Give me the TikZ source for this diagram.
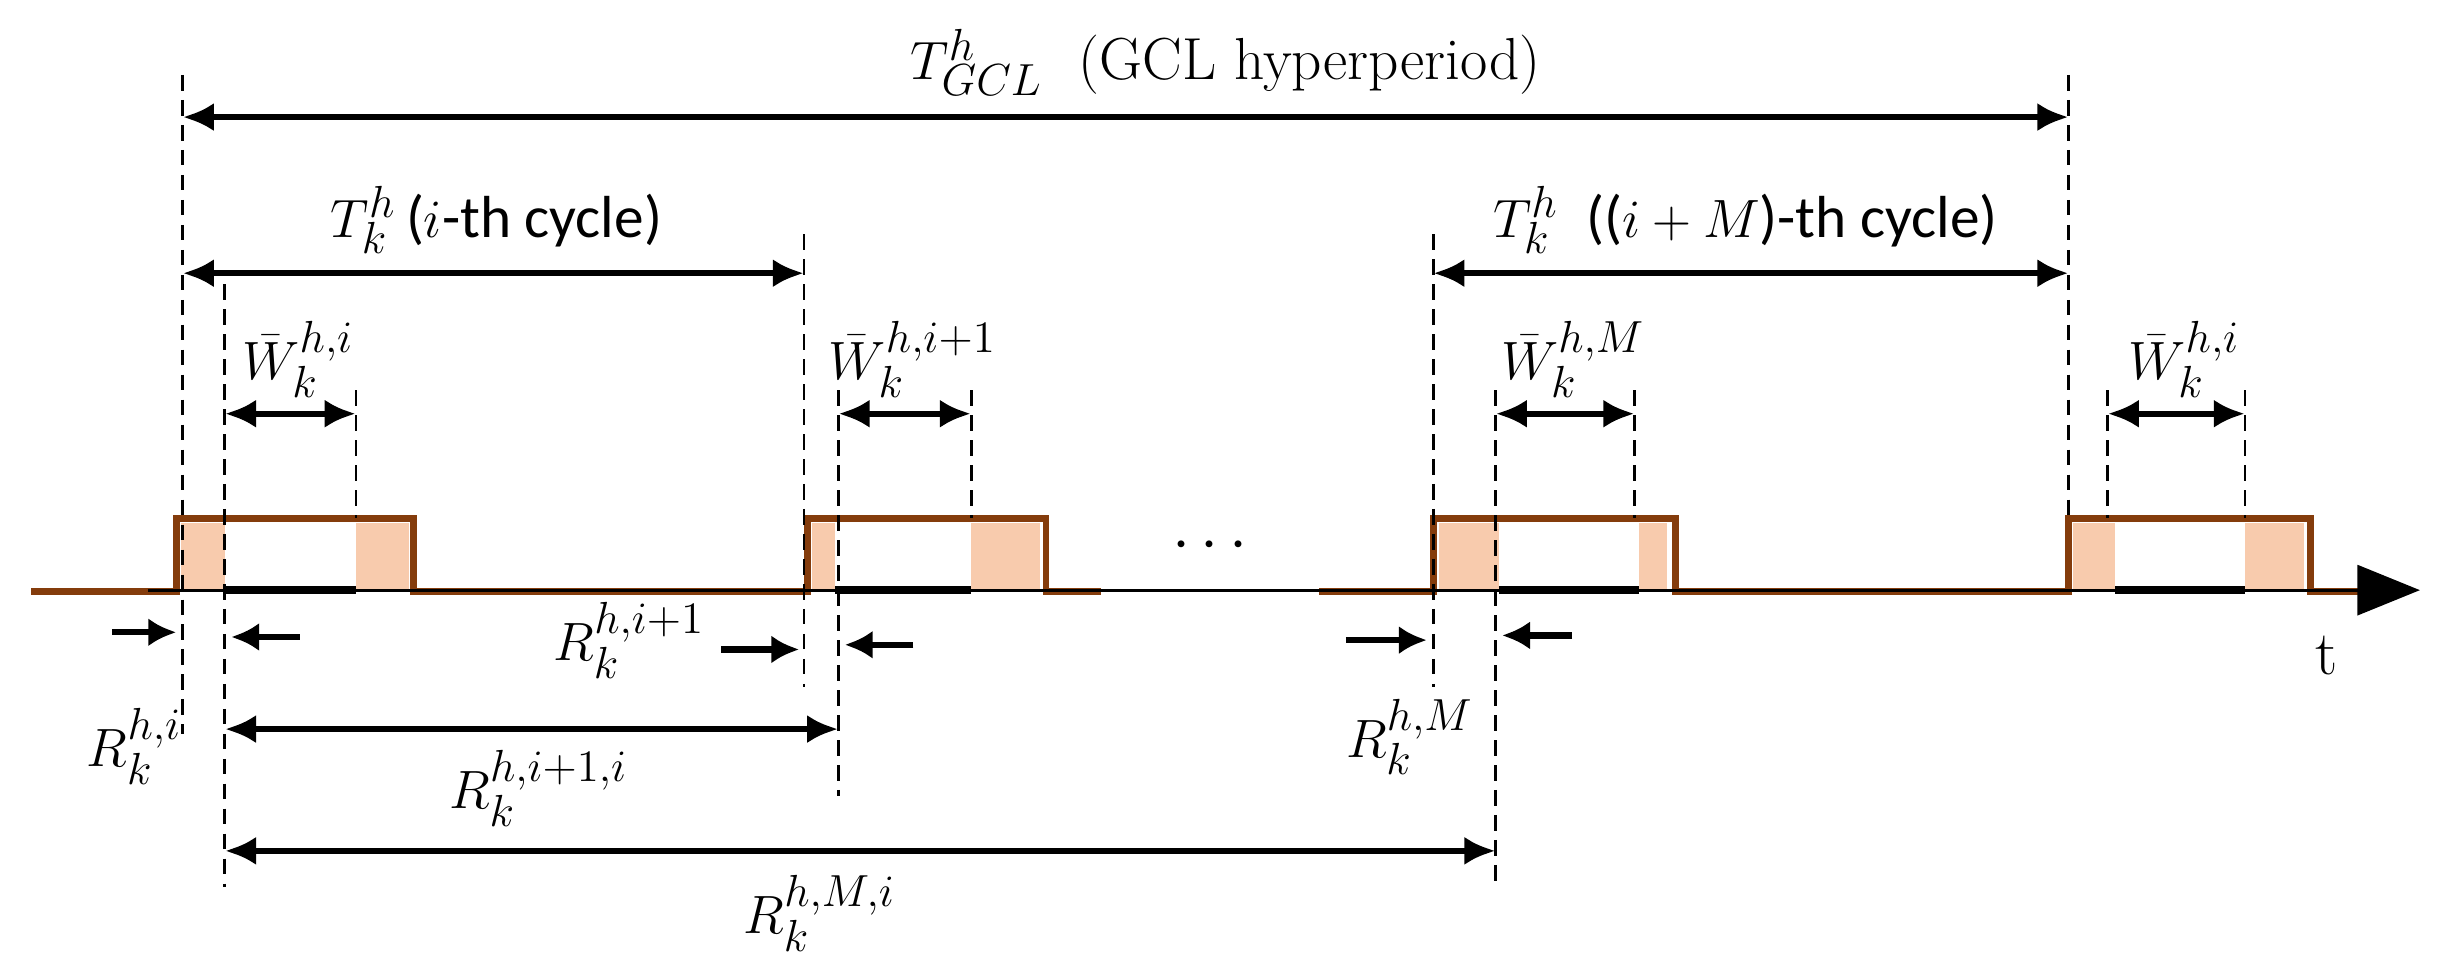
\documentclass[tikz,border=0pt]{standalone}
\usepackage{fontspec}
\newfontfamily\carl{Carlito}
\usetikzlibrary{arrows.meta}
\definecolor{brn}{HTML}{843C0C}
\definecolor{pnk}{HTML}{F8CBAD}
\begin{document}
\begin{tikzpicture}[x=0.5pt,y=-0.5pt,
  dim/.style={line width=2pt,{Latex[length=10pt,width=9pt]}-{Latex[length=10pt,width=9pt]}},
  sarr/.style={line width=2pt,-{Latex[length=9pt,width=9pt]}},
  dsh/.style={line width=0.9pt,dash pattern=on 5pt off 3pt},
  pulse/.style={brn,line width=2.2pt},
  lbl/.style={font=\fontsize{19}{21}\selectfont,inner sep=1pt}]
\useasboundingbox (0,0) rectangle (1568,626);
% fills
\foreach \a/\b in {116/144,228/262,520/535,622/666,922/960,1050/1068,1328/1355,1438/1476}
  \fill[pnk] (\a,335) rectangle (\b,378);
% axis
\draw[pulse] (20,379) -- (113,379) -- (113,332) -- (265,332) -- (265,379) -- (517,379) -- (517,332) -- (670,332) -- (670,379) -- (705,379);
\draw[pulse] (845,379) -- (918,379) -- (918,332) -- (1073,332) -- (1073,379) -- (1325,379) -- (1325,332) -- (1480,332) -- (1480,379) -- (1525,379);
\draw[line width=0.9pt] (95,378) -- (1530,378);
\foreach \a/\b in {144/228,535/622,960/1050,1355/1438}
  \draw[line width=2.4pt] (\a,378) -- (\b,378);
\coordinate (ax0) at (1500,378); \coordinate (ax1) at (1550,378);
\draw[line width=1pt,-{Triangle[length=20pt,width=16pt]}] (ax0) -- (ax1);
\node[lbl,font=\fontsize{20}{22}\selectfont] (t) at (1490,420) {t};
\node[lbl,font=\fontsize{22}{22}\selectfont] (dots) at (775,350) {$\cdots$};
% dashed lines
\foreach \x/\a/\b in {117/48/470,144/182/568,228/250/332,515/150/440,537/250/510,622/250/332,918/150/440,958/250/568,1047/250/332,1325/48/332,1350/250/332,1438/250/332}
  \draw[dsh] (\x,\a) -- (\x,\b);
% dimension arrows
\coordinate (g0) at (117,75); \coordinate (g1) at (1325,75);
\draw[dim] (g0) -- (g1);
\node[lbl] (gl) at (785,40) {$T^{h}_{GCL}$\ \ (GCL hyperperiod)};
\coordinate (c0) at (117,175); \coordinate (c1) at (515,175);
\draw[dim] (c0) -- (c1);
\node[lbl] (cl) at (318,141) {$T^{h}_{k}$\,{\carl(}$i${\carl-th cycle)}};
\coordinate (m0) at (918,175); \coordinate (m1) at (1325,175);
\draw[dim] (m0) -- (m1);
\node[lbl] (ml) at (1118,141) {$T^{h}_{k}$\ \,{\carl((}$i+M${\carl)-th cycle)}};
\foreach \a/\b/\n/\s in {144/228/w1/{h,i},537/622/w2/{h,i+1},958/1047/w3/{h,M},1350/1438/w4/{h,i}}{
  \coordinate (\n a) at (\a,265); \coordinate (\n b) at (\b,265);
  \draw[dim] (\n a) -- (\n b);
  \node[lbl] (\n l) at ({(\a+\b)/2+5},230) {$\bar{W}^{\s}_{k}$};
}
\coordinate (r0) at (144,467); \coordinate (r1) at (537,467);
\draw[dim] (r0) -- (r1);
\node[lbl] (rl) at (345,505) {$R^{h,i+1,i}_{k}$};
\coordinate (s0) at (144,545); \coordinate (s1) at (958,545);
\draw[dim] (s0) -- (s1);
\node[lbl] (sl) at (525,585) {$R^{h,M,i}_{k}$};
% small arrows
\coordinate (p0) at (72,405); \coordinate (p1) at (113,405);
\coordinate (q0) at (192,408); \coordinate (q1) at (148,408);
\draw[sarr] (p0) -- (p1); \draw[sarr] (q0) -- (q1);
\node[lbl] (pl) at (86,478) {$R^{h,i}_{k}$};
\coordinate (u0) at (462,416); \coordinate (u1) at (512,416);
\coordinate (v0) at (585,413); \coordinate (v1) at (541,413);
\draw[sarr] (u0) -- (u1); \draw[sarr] (v0) -- (v1);
\node[lbl] (ul) at (403,410) {$R^{h,i+1}_{k}$};
\coordinate (x0) at (862,410); \coordinate (x1) at (914,410);
\coordinate (y0) at (1007,407); \coordinate (y1) at (962,407);
\draw[sarr] (x0) -- (x1); \draw[sarr] (y0) -- (y1);
\node[lbl] (xl) at (903,472) {$R^{h,M}_{k}$};
\end{tikzpicture}
\end{document}
